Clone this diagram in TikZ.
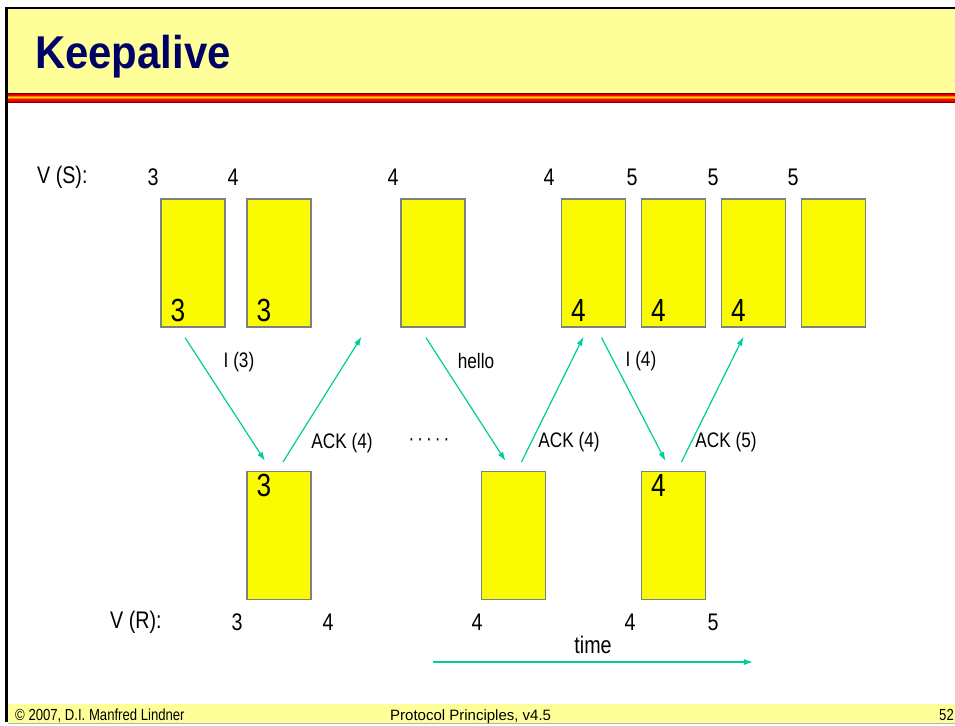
\documentclass[tikz,border=0pt]{standalone}
\usepackage{fontspec}
\setmainfont{Liberation Sans}
\newfontfamily\narrowfont[FakeStretch=0.82]{Liberation Sans}
\newfontfamily\titlefont[FakeStretch=0.91]{Liberation Sans}
\usetikzlibrary{arrows.meta,positioning}
\definecolor{slideyellow}{RGB}{255,255,153}
\definecolor{frameyellow}{RGB}{250,250,0}
\definecolor{framegray}{RGB}{128,128,128}
\definecolor{msgteal}{RGB}{0,204,153}
\definecolor{titleblue}{RGB}{0,0,102}
\begin{document}
\begin{tikzpicture}
	[x=1pt,y=-1pt,
	every node/.style={inner sep=0pt,font=\narrowfont\fontsize{24}{28}\selectfont},
	sframe/.style={draw=framegray,fill=frameyellow,line width=1.2pt,minimum width=64pt,minimum height=128pt},
	msg/.style={draw=msgteal,line width=1.2pt,-{Latex[length=9pt,width=6pt]}},
	msglabel/.style={font=\narrowfont\fontsize{21}{24}\selectfont},
	bigdigit/.style={font=\narrowfont\fontsize{32}{36}\selectfont,anchor=base west},
	footer/.style={font=\narrowfont\fontsize{16}{18}\selectfont,anchor=base west}
	]
	\useasboundingbox (0,0) rectangle (955,725);
	% slide header and footer
	\fill[slideyellow] (8,9) rectangle (955,93);
	\foreach \shade [count=\i from 0] in {red!50!black,red!85!black,red,orange,yellow!70!orange,orange,red,red!85!black,red!50!black}
		\fill[\shade] (8,{92.5+1.15*\i}) rectangle (955,{93.8+1.15*\i});
	\fill[slideyellow] (8,704) rectangle (955,723);
	\draw[framegray!60,line width=1pt] (8,723.5) -- (955,723.5);
	\draw[line width=2.5pt] (6.5,722) -- (6.5,8) -- (955,8);
	\node[anchor=base west,text=titleblue,font=\titlefont\bfseries\fontsize{46}{50}\selectfont] (title) at (35,69) {Keepalive};
	\node[footer] (copy) at (15,720) {\textcopyright\ 2007, D.I. Manfred Lindner};
	\node[footer,font=\fontsize{15}{18}\selectfont] (course) at (390,720) {Protocol Principles, v4.5};
	\node[footer] (page) at (939,720) {52};

	% sender frames
	\node[sframe] (s1) at (193,263) {};
	\node[sframe] (s2) at (279,263) {};
	\node[sframe] (s3) at (433,263) {};
	\node[sframe] (s4) at (593.5,263) {};
	\node[sframe] (s5) at (673.5,263) {};
	\node[sframe] (s6) at (753.5,263) {};
	\node[sframe] (s7) at (833.5,263) {};
	\node[bigdigit] (n1) at ([xshift=10pt,yshift=6pt]s1.south west) {3};
	\node[bigdigit] (n2) at ([xshift=10pt,yshift=6pt]s2.south west) {3};
	\node[bigdigit] (n4) at ([xshift=10pt,yshift=6pt]s4.south west) {4};
	\node[bigdigit] (n5) at ([xshift=10pt,yshift=6pt]s5.south west) {4};
	\node[bigdigit] (n6) at ([xshift=10pt,yshift=6pt]s6.south west) {4};

	% receiver frames
	\node[sframe] (r1) at (279,535.5) {};
	\node[sframe] (r2) at (513.5,535.5) {};
	\node[sframe] (r3) at (673.5,535.5) {};
	\node[bigdigit] (m1) at ([xshift=10pt,yshift=-26pt]r1.north west) {3};
	\node[bigdigit] (m3) at ([xshift=10pt,yshift=-26pt]r3.north west) {4};

	% state variables
	\node[anchor=west] (vs) at (37,177) {V (S):};
	\node (vs1) at (153,177) {3};
	\node (vs2) at (233,177) {4};
	\node (vs3) at (393,177) {4};
	\node (vs4) at (549,177) {4};
	\node (vs5) at (632,177) {5};
	\node (vs6) at (713,177) {5};
	\node (vs7) at (793,177) {5};
	\node[anchor=west] (vr) at (110,622) {V (R):};
	\node (vr1) at (237,622) {3};
	\node (vr2) at (328,622) {4};
	\node (vr3) at (477,622) {4};
	\node (vr4) at (630,622) {4};
	\node (vr5) at (713,622) {5};

	% messages
	\coordinate (ack1) at ([xshift=50pt,yshift=-9pt]s2.south east);
	\draw[msg] ([xshift=-8pt,yshift=-10pt]s1.south) -- ([xshift=-14pt,yshift=10pt]r1.north);
	\draw[msg] ([xshift=4pt,yshift=9pt]r1.north) -- (ack1);
	\draw[msg] ([xshift=-7pt,yshift=-10pt]s3.south) -- ([xshift=-8pt,yshift=10pt]r2.north);
	\draw[msg] ([xshift=8pt,yshift=9pt]r2.north) -- ([xshift=-10pt,yshift=-9pt]s4.south);
	\draw[msg] ([xshift=8pt,yshift=-10pt]s4.south) -- ([xshift=-8pt,yshift=10pt]r3.north);
	\draw[msg] ([xshift=8pt,yshift=9pt]r3.north) -- ([xshift=-10pt,yshift=-9pt]s6.south);
	\node[msglabel] (l1) at (239,362) {I (3)};
	\node[msglabel] (l2) at (342,443) {ACK (4)};
	\node[msglabel] (l3) at (476,361) {hello};
	\node[msglabel] (l4) at (569,442) {ACK (4)};
	\node[msglabel] (l5) at (641,361) {I (4)};
	\node[msglabel] (l6) at (726,442) {ACK (5)};
	\node[msglabel] (dots) at (429,442) {·\hspace{3pt}·\hspace{3pt}·\hspace{3pt}·\hspace{3pt}·};

	% time axis
	\coordinate (t0) at (433,662);
	\coordinate (t1) at (753,662);
	\draw[msg] (t0) -- (t1);
	\node (time) at (593,645) {time};
\end{tikzpicture}
\end{document}
